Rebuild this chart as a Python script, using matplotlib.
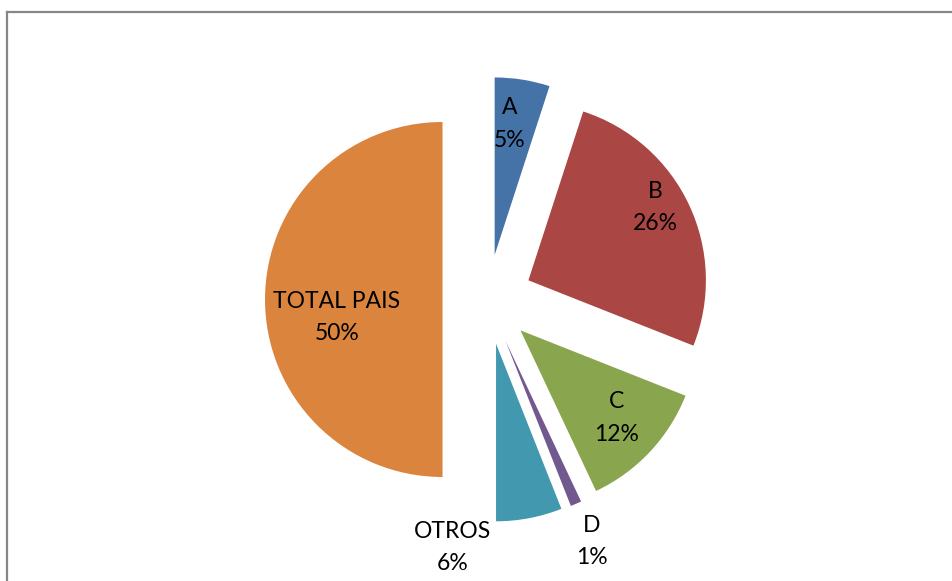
import matplotlib
matplotlib.use("Agg")
import matplotlib.pyplot as plt
from matplotlib.lines import Line2D

categories = ["A", "B", "C", "D", "OTROS", "TOTAL PAIS"]
values = [5, 26, 12, 1, 6, 50]
colors = ["#4572A7", "#AA4643", "#89A54E", "#71588F", "#4198AF", "#DB843D"]

# layout (pixels)
W, H = 953, 581
cx, cy, r = 487.6, 299.5, 177.5
explode_frac = 0.254
# label positions (pixel) for name / percent lines
label_pos = {
    "A": (510, 107, 140),
    "B": (655, 191, 224),
    "C": (617, 402, 435),
    "D": (592, 526, 558),
    "OTROS": (453, 531, 563),
    "TOTAL PAIS": (337, 302, 333),
}

fig = plt.figure(figsize=(W / 100, H / 100), dpi=100)
ax = fig.add_axes([0, 0, 1, 1])

total = sum(values)
ax.pie(values, colors=colors, startangle=90, counterclock=False,
       radius=1, center=(0, 0), explode=[explode_frac] * len(values),
       wedgeprops=dict(linewidth=0), frame=False)
ax.set_xlim((0 - cx) / r, (W - cx) / r)
ax.set_ylim((cy - H) / r, cy / r)
ax.set_aspect("equal")
ax.set_axis_off()

font = dict(family=["Lato", "DejaVu Sans"], fontsize=16.5, color="black",
            ha="center", va="center")
for cat, v in zip(categories, values):
    px, py1, py2 = label_pos[cat]
    pct = f"{round(v / total * 100)}%"
    ax.text((px - cx) / r, (cy - py1) / r, cat, **font)
    ax.text((px - cx) / r, (cy - py2) / r, pct, **font)

# chart frame border (left and top edges visible)
bx, by = 7.5 / W, 1 - 12 / H
fig.add_artist(Line2D([bx, bx], [0, by], transform=fig.transFigure,
                      color="#878787", linewidth=1.6, solid_capstyle="projecting"))
fig.add_artist(Line2D([bx, 1], [by, by], transform=fig.transFigure,
                      color="#878787", linewidth=1.6, solid_capstyle="projecting"))

fig.savefig("out.png", dpi=100, facecolor="white")
